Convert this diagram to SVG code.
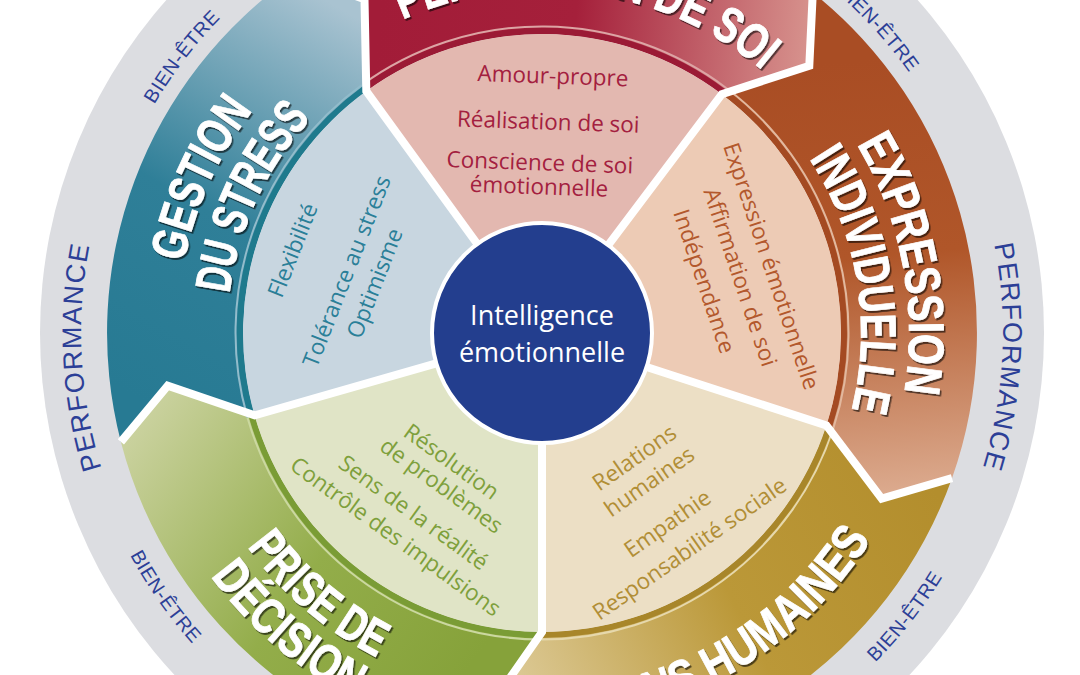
<svg xmlns="http://www.w3.org/2000/svg" xmlns:xlink="http://www.w3.org/1999/xlink" width="1080" height="675" viewBox="0 0 1080 675">
<defs>
<linearGradient id="gTeal" gradientUnits="userSpaceOnUse" x1="140" y1="400" x2="360" y2="20"><stop offset="0" stop-color="#277a93"/><stop offset="0.45" stop-color="#2f7f98"/><stop offset="1" stop-color="#a9c3d1"/></linearGradient>
<linearGradient id="gRed" gradientUnits="userSpaceOnUse" x1="380" y1="0" x2="815" y2="40"><stop offset="0" stop-color="#a21c38"/><stop offset="0.45" stop-color="#a5203b"/><stop offset="1" stop-color="#d8958f"/></linearGradient>
<linearGradient id="gOrange" gradientUnits="userSpaceOnUse" x1="860" y1="60" x2="900" y2="495"><stop offset="0" stop-color="#a94d24"/><stop offset="0.45" stop-color="#b05629"/><stop offset="1" stop-color="#dcab8f"/></linearGradient>
<linearGradient id="gYellow" gradientUnits="userSpaceOnUse" x1="930" y1="480" x2="520" y2="690"><stop offset="0" stop-color="#b38e2d"/><stop offset="0.5" stop-color="#bb9838"/><stop offset="1" stop-color="#dcc995"/></linearGradient>
<linearGradient id="gGreen" gradientUnits="userSpaceOnUse" x1="460" y1="680" x2="130" y2="440"><stop offset="0" stop-color="#86a23a"/><stop offset="0.45" stop-color="#93ad4a"/><stop offset="1" stop-color="#c9d19d"/></linearGradient>
<filter id="sh" x="-10%" y="-10%" width="120%" height="120%"><feDropShadow dx="1.5" dy="2" stdDeviation="0.7" flood-color="#000" flood-opacity="0.6"/></filter>
<path id="pT1" d="M 239.1,172.0 A 343 343 0 0 1 877.5,261.7"/>
<path id="pE1" d="M 600.7,-29.3 A 367 367 0 0 1 730.0,648.2"/>
<path id="pE2" d="M 599.6,19.2 A 319 319 0 0 1 699.6,610.4"/>
<path id="pG1" d="M 286.6,593.8 A 365 365 0 0 1 570.0,-30.9"/>
<path id="pG2" d="M 319.3,555.7 A 315 315 0 0 1 569.5,19.2"/>
<path id="pR1" d="M 258.2,598.3 A 387 387 0 0 0 927.5,299.3"/>
<path id="pD1" d="M 201.1,205.5 A 364 364 0 0 0 721.2,649.8"/>
<path id="pD2" d="M 157.0,189.1 A 411 411 0 0 0 744.4,690.7"/>
<path id="pPL" d="M 407.2,773.8 A 461 461 0 0 1 361.9,-91.3"/>
<path id="pPR" d="M 722.1,-91.3 A 461 461 0 0 1 676.8,773.8"/>
<path id="pB1" d="M 92.4,352.6 A 450 450 0 0 1 444.6,-106.3"/>
<path id="pB2" d="M 604.6,-112.7 A 450 450 0 0 1 991.6,313.4"/>
<path id="pB3" d="M 75.8,292.2 A 468 468 0 0 0 420.9,785.1"/>
<path id="pB4" d="M 623.3,793.9 A 468 468 0 0 0 1010.0,300.4"/>
</defs>
<style>
.lab{font-family:"Open Sans","Noto Sans","Liberation Sans",sans-serif;font-size:22.5px;text-anchor:middle;dominant-baseline:central}
.ttl{font-family:"Liberation Sans Narrow","Liberation Sans",sans-serif;font-weight:700;font-size:50px;fill:#fff;stroke:#fff;stroke-width:0.8px;text-anchor:middle;filter:url(#sh)}
.rt{font-family:"Liberation Sans","Arial",sans-serif;fill:#2c3f97;text-anchor:middle}
.perf{font-size:27px;letter-spacing:1.5px}
.be{font-size:19.5px;letter-spacing:0.6px}
.sep{fill:none;stroke:#fff;stroke-width:8;stroke-linejoin:miter;stroke-miterlimit:10}
.st{fill:none;stroke-width:6}
.pl{fill:none;stroke-width:2}
</style>
<rect width="1080" height="675" fill="#fff"/>
<g id="ring">
<circle cx="542" cy="333" r="502" fill="#dcdde1"/>
<text class="rt perf"><textPath href="#pPL" xlink:href="#pPL" startOffset="50%">PERFORMANCE</textPath></text>
<text class="rt perf"><textPath href="#pPR" xlink:href="#pPR" startOffset="50%">PERFORMANCE</textPath></text>
<text class="rt be"><textPath href="#pB1" xlink:href="#pB1" startOffset="50%">BIEN-ÊTRE</textPath></text>
<text class="rt be"><textPath href="#pB2" xlink:href="#pB2" startOffset="50%">BIEN-ÊTRE</textPath></text>
<text class="rt be"><textPath href="#pB3" xlink:href="#pB3" startOffset="50%">BIEN-ÊTRE</textPath></text>
<text class="rt be"><textPath href="#pB4" xlink:href="#pB4" startOffset="50%">BIEN-ÊTRE</textPath></text>
</g>
<g id="perception">
<path d="M 366.3,91.1 A 299 299 0 0 1 721.9,94.2 L 809.3,65.7 L 812.8,-7.4 A 435 435 0 0 0 295.6,-25.5 L 364.5,-0.8 Z" fill="url(#gRed)"/>
<path class="st" stroke="#9b1a35" d="M 364.5,88.7 A 302 302 0 0 1 723.7,91.8"/>
<path class="pl" stroke="#dca4a4" d="M 361.8,85.0 A 306.5 306.5 0 0 1 726.5,88.2"/>
<path d="M 542,333 L 366.3,91.1 A 299 299 0 0 1 721.9,94.2 Z" fill="#e3b8b0"/>
<g fill="#a3203f" transform="rotate(2 546 130)">
<text class="lab" x="551" y="75">Amour-propre</text>
<text class="lab" x="548" y="121">Réalisation de soi</text>
<text class="lab" x="541" y="162">Conscience de soi</text>
<text class="lab" x="541" y="186">émotionnelle</text>
</g>
<text class="ttl"><textPath href="#pT1" xlink:href="#pT1" startOffset="50%" textLength="383" lengthAdjust="spacingAndGlyphs">PERCEPTION DE SOI</textPath></text>
</g>
<g id="expression">
<path d="M 721.9,94.2 A 299 299 0 0 1 826.4,425.4 L 881.7,498.7 L 952.0,478.2 A 435 435 0 0 0 812.8,-7.4 L 809.3,65.7 Z" fill="url(#gOrange)"/>
<path class="st" stroke="#a44a22" d="M 723.7,91.8 A 302 302 0 0 1 829.2,426.3"/>
<path class="pl" stroke="#e2b89e" d="M 726.5,88.2 A 306.5 306.5 0 0 1 833.5,427.7"/>
<path d="M 542,333 L 721.9,94.2 A 299 299 0 0 1 826.4,425.4 Z" fill="#edcbb5"/>
<g fill="#b3582c">
<text class="lab" transform="translate(772 266) rotate(71.5)">Expression émotionnelle</text>
<text class="lab" transform="translate(741 277) rotate(71.5)">Affirmation de soi</text>
<text class="lab" transform="translate(705 281) rotate(71.5)">Indépendance</text>
</g>
<text class="ttl"><textPath href="#pE1" xlink:href="#pE1" startOffset="50%" textLength="258" lengthAdjust="spacingAndGlyphs">EXPRESSION</textPath></text>
<text class="ttl"><textPath href="#pE2" xlink:href="#pE2" startOffset="50%" textLength="262" lengthAdjust="spacingAndGlyphs">INDIVIDUELLE</textPath></text>
</g>
<g id="relations">
<path d="M 826.4,425.4 A 299 299 0 0 1 542,632 L 489.4,707.3 L 530.6,767.9 A 435 435 0 0 0 952.0,478.2 L 881.7,498.7 Z" fill="url(#gYellow)"/>
<path class="st" stroke="#a8862a" d="M 829.2,426.3 A 302 302 0 0 1 542,635"/>
<path class="pl" stroke="#e6d8ac" d="M 833.5,427.7 A 306.5 306.5 0 0 1 542,639.5"/>
<path d="M 542,333 L 826.4,425.4 A 299 299 0 0 1 542,632 Z" fill="#ecdfc5"/>
<g fill="#b18e36">
<text class="lab" transform="translate(634 457) rotate(-35)">Relations</text>
<text class="lab" transform="translate(649 481) rotate(-35)">humaines</text>
<text class="lab" transform="translate(667 523) rotate(-35)">Empathie</text>
<text class="lab" transform="translate(689 548) rotate(-35)">Responsabilité sociale</text>
</g>
<text class="ttl"><textPath href="#pR1" xlink:href="#pR1" startOffset="50%" textLength="460" lengthAdjust="spacingAndGlyphs">RELATIONS HUMAINES</textPath></text>
</g>
<g id="decision">
<path d="M 542,632 A 299 299 0 0 1 254.6,415.4 L 167.7,385.6 L 120.9,441.9 A 435 435 0 0 0 530.6,767.9 L 489.4,707.3 Z" fill="url(#gGreen)"/>
<path class="st" stroke="#7a9c35" d="M 542,635 A 302 302 0 0 1 251.7,416.2"/>
<path class="pl" stroke="#cbd8a0" d="M 542,639.5 A 306.5 306.5 0 0 1 247.4,417.5"/>
<path d="M 542,333 L 542,632 A 299 299 0 0 1 254.6,415.4 Z" fill="#e0e4c6"/>
<g fill="#7ea03c">
<text class="lab" transform="translate(452 461) rotate(36)">Résolution</text>
<text class="lab" transform="translate(442 485) rotate(36)">de problèmes</text>
<text class="lab" transform="translate(414 512) rotate(36)">Sens de la réalité</text>
<text class="lab" transform="translate(396 536) rotate(36)">Contrôle des impulsions</text>
</g>
<text class="ttl"><textPath href="#pD1" xlink:href="#pD1" startOffset="50%" textLength="172" lengthAdjust="spacingAndGlyphs">PRISE DE</textPath></text>
<text class="ttl"><textPath href="#pD2" xlink:href="#pD2" startOffset="50%" textLength="190" lengthAdjust="spacingAndGlyphs">DÉCISION</textPath></text>
</g>
<g id="stress">
<path d="M 254.6,415.4 A 299 299 0 0 1 366.3,91.1 L 364.5,-0.8 L 295.6,-25.5 A 435 435 0 0 0 120.9,441.9 L 167.7,385.6 Z" fill="url(#gTeal)"/>
<path class="st" stroke="#1f7a8d" d="M 251.7,416.2 A 302 302 0 0 1 364.5,88.7"/>
<path class="pl" stroke="#92bccb" d="M 247.4,417.5 A 306.5 306.5 0 0 1 361.8,85.0"/>
<path d="M 542,333 L 254.6,415.4 A 299 299 0 0 1 366.3,91.1 Z" fill="#c8d6e0"/>
<g fill="#2a7f98">
<text class="lab" transform="translate(292 250) rotate(-68.5)">Flexibilité</text>
<text class="lab" transform="translate(346 271) rotate(-68.5)">Tolérance au stress</text>
<text class="lab" transform="translate(374 283) rotate(-68.5)">Optimisme</text>
</g>
<text class="ttl"><textPath href="#pG1" xlink:href="#pG1" startOffset="50%" textLength="168" lengthAdjust="spacingAndGlyphs">GESTION</textPath></text>
<text class="ttl"><textPath href="#pG2" xlink:href="#pG2" startOffset="50%" textLength="196" lengthAdjust="spacingAndGlyphs">DU STRESS</textPath></text>
</g>
<g id="separators">
<path class="sep" d="M 646.6,367.0 L 826.4,425.4 L 881.7,498.7 L 952.0,478.2"/>
<path class="sep" d="M 542,443 L 542,632 L 489.4,707.3 L 530.6,767.9"/>
<path class="sep" d="M 436.3,363.3 L 254.6,415.4 L 167.7,385.6 L 120.9,441.9"/>
<path class="sep" d="M 477.3,244.0 L 366.3,91.1 L 364.5,-0.8 L 295.6,-25.5"/>
<path class="sep" d="M 608.2,245.1 L 721.9,94.2 L 809.3,65.7 L 812.8,-7.4"/>
</g>
<g id="center">
<circle cx="542" cy="333" r="110" fill="#233e8e" stroke="#fff" stroke-width="4"/>
<text class="lab" x="542" y="314" fill="#fff" style="font-size:27px">Intelligence</text>
<text class="lab" x="542" y="351" fill="#fff" style="font-size:27px">émotionnelle</text>
</g>
</svg>
